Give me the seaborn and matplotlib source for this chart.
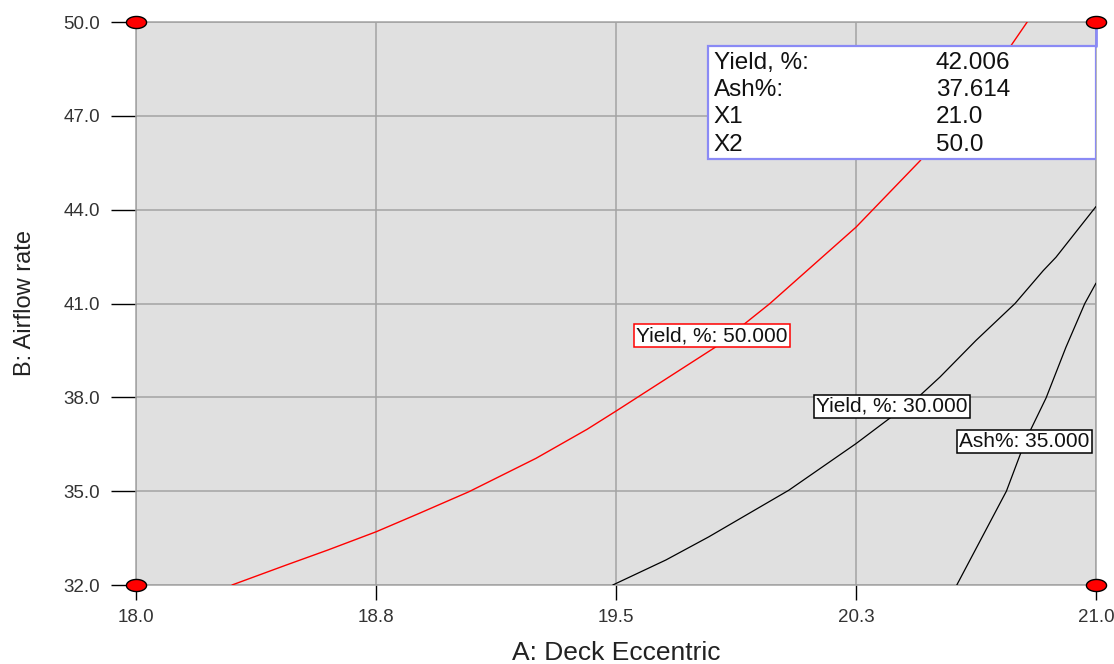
import numpy as np
import pandas as pd
import matplotlib
matplotlib.use("Agg")
import matplotlib.pyplot as plt
import seaborn as sns
from matplotlib.path import Path
from matplotlib.patches import Rectangle

# ---------------- data ----------------
yield50_x = [18.30, 18.47, 18.60, 18.75, 18.885, 19.04, 19.25, 19.41, 19.50, 19.81, 19.98, 20.25, 20.45, 20.73, 20.785]
yield50_y = [32.00, 32.64, 33.12, 33.70, 34.29, 34.98, 36.05, 36.98, 37.56, 39.60, 40.99, 43.44, 45.56, 49.18, 50.00]

yield30_x = [19.49, 19.656, 19.79, 20.04, 20.25, 20.45, 20.5125, 20.625, 20.747, 20.835, 20.875, 21.00]
yield30_y = [32.00, 32.80, 33.54, 35.03, 36.52, 38.06, 38.65, 39.82, 41.00, 42.05, 42.48, 44.10]

ash35_x = [20.565, 20.72, 20.78, 20.844, 20.906, 20.965, 21.00]
ash35_y = [32.00, 35.00, 36.63, 37.98, 39.60, 41.00, 41.65]

design_x = [18.0, 18.0, 21.0, 21.0]
design_y = [32.0, 50.0, 32.0, 50.0]

x_ticks = [18.0, 18.75, 19.5, 20.25, 21.0]
x_tick_labels = ["18.0", "18.8", "19.5", "20.3", "21.0"]
y_ticks = [32.0, 35.0, 38.0, 41.0, 44.0, 47.0, 50.0]
y_tick_labels = ["32.0", "35.0", "38.0", "41.0", "44.0", "47.0", "50.0"]

contour_labels = ["Yield, %: 50.000", "Yield, %: 30.000", "Ash%: 35.000"]
contour_label_x = [19.80, 20.363, 20.776]
contour_label_y = [39.97, 37.72, 36.60]

info_names = ["Yield, %:", "Ash%:", "X1", "X2"]
info_values = ["42.006", "37.614", "21.0", "50.0"]

x_label = "A: Deck Eccentric"
y_label = "B: Airflow rate"

# ---------------- style ----------------
sns.set_theme(style="whitegrid", rc={
    "axes.facecolor": "#E0E0E0",
    "grid.color": "#A3A3A3",
    "grid.linewidth": 1.1,
    "axes.edgecolor": "#A3A3A3",
})
plt.rcParams["font.family"] = ["Liberation Sans", "DejaVu Sans"]

fig = plt.figure(figsize=(11.14, 6.64), dpi=100)
ax = fig.add_axes([136 / 1114, 1 - 585 / 664, 960 / 1114, 563 / 664])

df50 = pd.DataFrame({"x": yield50_x, "y": yield50_y})
df30 = pd.DataFrame({"x": yield30_x, "y": yield30_y})
dfa = pd.DataFrame({"x": ash35_x, "y": ash35_y})

sns.lineplot(data=df50, x="x", y="y", sort=False, estimator=None, color="#FF0000", lw=1.0, ax=ax, zorder=3)
sns.lineplot(data=df30, x="x", y="y", sort=False, estimator=None, color="black", lw=0.9, ax=ax, zorder=3)
sns.lineplot(data=dfa, x="x", y="y", sort=False, estimator=None, color="black", lw=0.9, ax=ax, zorder=3)

ax.set_xlim(18.0, 21.0)
ax.set_ylim(32.0, 50.0)
ax.set_xticks(x_ticks)
ax.set_xticklabels(x_tick_labels)
ax.set_yticks(y_ticks)
ax.set_yticklabels(y_tick_labels)

ax.tick_params(axis="both", which="major", colors="black", labelcolor="#333333",
               labelsize=13.5, width=1.0, direction="out")
ax.tick_params(axis="y", length=18, pad=8)
ax.tick_params(axis="x", length=11, pad=6)
ax.xaxis.set_ticks_position("bottom")
ax.yaxis.set_ticks_position("left")

for s in ax.spines.values():
    s.set_color("#A3A3A3")
    s.set_linewidth(1.1)

ax.set_xlabel(x_label, fontsize=19, color="#222222")
ax.set_ylabel(y_label, fontsize=17, color="#222222")
ax.xaxis.set_label_coords(0.5, -0.100)
ax.yaxis.set_label_coords(-0.104, 0.5)

# contour labels
edge_colors = ["#FF0000", "black", "black"]
for t, lx, ly, ec in zip(contour_labels, contour_label_x, contour_label_y, edge_colors):
    ax.text(lx, ly, t, ha="center", va="center", fontsize=15, color="#111111", zorder=5,
            bbox=dict(boxstyle="square,pad=0.1", fc="white", ec=ec, lw=1.1))

# info box
bx0, bx1, by0, by1 = 19.7875, 21.0, 45.63, 49.235
ax.add_patch(Rectangle((bx0, by0), bx1 - bx0, by1 - by0, facecolor="white",
                       edgecolor="#8A8AF5", lw=1.6, zorder=6))
ax.plot([21.0, 21.0], [by1, 50.0], color="#8A8AF5", lw=2.0, zorder=6, clip_on=False)
row_base = [48.49, 47.64, 46.78, 45.88]
for n, v, yb in zip(info_names, info_values, row_base):
    ax.text(19.806, yb, n, ha="left", va="baseline", fontsize=17.5, color="#111111", zorder=7)
    ax.text(20.50, yb, v, ha="left", va="baseline", fontsize=17.5, color="#111111", zorder=7)

# design points (ellipses)
t = np.linspace(0, 2 * np.pi, 60)
ell = Path(np.column_stack([np.cos(t), 0.6 * np.sin(t)]), closed=True)
dfp = pd.DataFrame({"x": design_x, "y": design_y})
sns.scatterplot(data=dfp, x="x", y="y", marker=ell, s=14.5 ** 2, color="#FF0000",
                edgecolor="black", linewidth=1.0, ax=ax, zorder=8, clip_on=False)

fig.savefig("out.png", dpi=100)
